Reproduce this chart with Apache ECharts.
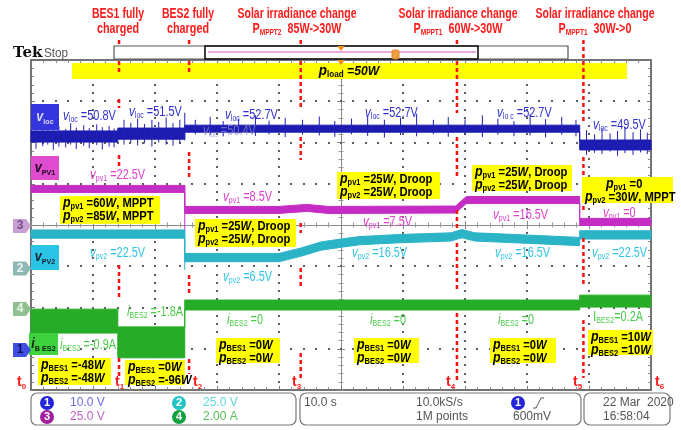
<!DOCTYPE html>
<html><head><meta charset="utf-8">
<script src="https://cdn.jsdelivr.net/npm/echarts@6/dist/echarts.min.js"></script>
<style>html,body{margin:0;padding:0;background:#fff}#c{width:681px;height:430px}</style>
</head><body><div id="c"></div>
<script>
// ---- DATA (time in s, 10 s/div; vertical in screen divisions, 0 = screen centre) ----
const vlocT  = [0, 14.0, 14.0, 24.8, 24.8, 88.5, 88.5, 100];
const vlocHi = [2.28, 2.28, 2.35, 2.35, 2.42, 2.42, 2.06, 2.06];
const vlocLo = [2.01, 2.01, 2.08, 2.08, 2.25, 2.25, 1.82, 1.82];
const vlocSpikes = [
 [0.8,2.38,1.85],[1.9,2.33,1.91],[2.7,2.45,1.95],[3.6,2.36,1.82],[4.5,2.40,1.90],[5.6,2.33,1.88],[6.4,2.47,1.95],
 [7.3,2.36,1.84],[8.5,2.42,1.92],[9.4,2.35,1.86],[10.6,2.44,1.94],[11.5,2.37,1.83],[12.6,2.40,1.90],[13.4,2.34,1.88],
 [15.0,2.55,1.95],[16.1,2.48,2.00],[17.2,2.58,1.93],[18.3,2.45,1.98],[19.5,2.55,1.90],[20.6,2.50,2.00],[21.8,2.60,1.95],
 [22.9,2.47,1.92],[24.0,2.55,1.98],[24.8,2.72,2.05],
 [26.5,2.55,2.20],[28.9,2.62,2.18],[31.0,2.52,2.15],[33.5,2.58,2.22],[36.2,2.66,2.16],[38.4,2.53,2.20],[41.0,2.60,2.13],
 [43.8,2.55,2.19],[46.5,2.63,2.17],[49.0,2.52,2.14],[51.7,2.58,2.20],[54.3,2.65,2.16],[57.0,2.55,2.12],[59.6,2.60,2.18],
 [62.2,2.70,2.15],[64.9,2.55,2.20],[67.3,2.62,2.14],[70.0,2.56,2.18],[72.8,2.66,2.13],[75.3,2.58,2.19],[77.9,2.52,2.15],
 [80.5,2.68,2.17],[83.0,2.57,2.12],[85.6,2.62,2.19],[87.9,2.55,2.15],
 [89.6,2.30,1.70],[90.9,2.20,1.75],[92.1,2.35,1.72],[93.4,2.22,1.78],[94.6,2.28,1.68],[95.8,2.38,1.74],[97.1,2.25,1.70],
 [98.3,2.32,1.76],[99.4,2.24,1.72]
];
const vpv1T  = [0, 24.8, 24.8, 40, 44.5, 48, 68.5, 70.2, 88.5, 88.5, 100];
const vpv1Hi = [0.96, 0.96, 0.45, 0.45, 0.50, 0.45, 0.46, 0.69, 0.69, 0.16, 0.16];
const vpv1Lo = [0.79, 0.79, 0.28, 0.28, 0.33, 0.28, 0.29, 0.52, 0.52, -0.01, -0.01];
const vpv1Spikes = [[24.8, 0.96, -0.12]];
const vpv2T  = [0, 24.8, 24.8, 40, 43.5, 46.8, 50, 53, 59.5, 67.7, 69.5, 71.6, 78, 88.5, 88.5, 100];
const vpv2Hi = [-0.12, -0.12, -0.69, -0.69, -0.56, -0.41, -0.34, -0.28, -0.23, -0.19, -0.11, -0.19, -0.23, -0.30, -0.14, -0.14];
const vpv2Lo = [-0.32, -0.32, -0.89, -0.89, -0.76, -0.61, -0.54, -0.48, -0.43, -0.39, -0.31, -0.39, -0.43, -0.50, -0.34, -0.34];
const vpv2Spikes = [[24.8, -0.12, -1.09]];
const ibesT  = [0, 14.0, 14.0, 24.8, 24.8, 88.5, 88.5, 100];
const ibesHi = [-2.04, -2.04, -2.47, -2.47, -1.82, -1.82, -1.70, -1.70];
const ibesLo = [-2.62, -2.62, -3.22, -3.22, -2.06, -2.06, -1.99, -1.99];
const eventTimes = [14.2, 25.5, 43.5, 68.7, 89.1];
const eventTitles = [["BES1 fully","charged"],["BES2 fully","charged"],["Solar irradiance change","MPPT2|  85W->30W"],["Solar irradiance change","MPPT1|  60W->30W"],["Solar irradiance change","MPPT1|  30W->0"]];
const timeMarks = ["0","1","2","3","4","5","6"];

// ---- LAYOUT ----
const FF = "'Liberation Sans',Arial,sans-serif";
const GL = 31, GT = 60, GW = 620, GH = 330;
const eventSegs = [
 [[40,74],[99,108],[155,168],[265,300],[358,378]],
 [[40,73],[152,178],[275,293],[359,374]],
 [[40,108],[137,160],[223,233],[268,288],[353,378]],
 [[40,113],[137,177],[210,230],[243,290],[313,380]],
 [[40,123],[157,210],[238,287],[320,378]]
];
const eventTitleX = [118, 188, 297, 458, 595];
const timeMarkX = [17, 115, 193, 292, 446, 573, 655];

function tk(size, color, weight, italic, sub){
  return {fontSize:size, fontFamily:FF, fontWeight:weight||'normal', fontStyle:italic?'italic':'normal',
    fill:color, lineHeight: sub?10:17, verticalAlign: sub?'bottom':'middle'};
}
function rtext(x, y, text, rich, align, z, sx){
  return {type:'text', x:x, y:y, z:z||20, scaleX:sx||1, style:{text:text, rich:rich, align:align||'left', verticalAlign:'middle',
    textAlign:align||'left', textVerticalAlign:'middle'}};
}
function sig(x, y, sym, sub, rest, color, symItalic){
  return rtext(x, y, '{a|'+sym+'}{b|'+sub+'}{c|'+rest+'}', {
    a: tk(15, color, 'normal', symItalic!==false), b: tk(9, color, 'normal', false, true), c: tk(14, color, 'normal')}, 'left', 20, 0.78);
}
function pline(x, y, sub, val, tail){
  const t = '{p|p}{s|'+sub+'}{n| ='+val+'}' + (tail.w ? '{w|W}' : '') + (tail.t ? '{n|'+tail.t+'}' : '');
  return rtext(x, y, t, {p: tk(15,'#000','bold',true), s: tk(9,'#000','bold',false,true), n: tk(13.5,'#000','bold'), w: tk(13.5,'#000','bold',true)}, 'left', 20, 0.83);
}
function ybox(x, y, w, h, lines){
  const out = [{type:'rect', z:15, shape:{x:x, y:y, width:w, height:h}, style:{fill:'#ffff00'}}];
  lines.forEach(function(l, i){ out.push(pline(l.x!==undefined?l.x:x+3, y+7+i*13, l.sub, l.val, l)); });
  return out;
}
function tag(x, y, w, h, fill, content, rich){
  return [{type:'rect', z:14, shape:{x:x, y:y, width:w, height:h}, style:{fill:fill}},
          rtext(x+w/2, y+h/2, content, rich, 'center', 16, 0.9)];
}
function chMarker(y, fill, txt, txtColor){
  return [{type:'polygon', z:14, shape:{points:[[13,y-7],[26,y-7],[31,y],[26,y+7],[13,y+7]]}, style:{fill:fill}},
          {type:'text', z:15, x:20, y:y, style:{text:txt, fill:txtColor, font:'bold 12px '+FF, align:'center', verticalAlign:'middle', textAlign:'center', textVerticalAlign:'middle'}}];
}
function plain(x, y, text, color, size, align, weight, sx){
  return {type:'text', z:20, x:x, y:y, scaleX:sx||1, style:{text:text, fill:color, font:(weight||'normal')+' '+(size||12)+'px '+FF,
    align:align||'left', verticalAlign:'middle', textAlign:align||'left', textVerticalAlign:'middle'}};
}

function bandSeries(T, HI, LO, fill, z){
  return {type:'custom', z:z||2, silent:true, clip:false, data:T.map(function(t,i){return [t, HI[i], LO[i]];}),
    encode:{x:0, y:[1,2]},
    renderItem:function(params, api){
      if (params.dataIndex !== 0) return null;
      const pts = [];
      for (let i=0;i<T.length;i++) pts.push(api.coord([T[i], HI[i]]));
      for (let i=T.length-1;i>=0;i--) pts.push(api.coord([T[i], LO[i]]));
      return {type:'polygon', shape:{points:pts}, style:{fill:fill, stroke:fill, lineWidth:1}};
    }};
}
function spikeSeries(S, color, z){
  return {type:'custom', z:z||2, silent:true, data:S, encode:{x:0, y:[1,2]},
    renderItem:function(params, api){
      const a = api.coord([api.value(0), api.value(1)]), b = api.coord([api.value(0), api.value(2)]);
      return {type:'line', shape:{x1:a[0], y1:a[1], x2:b[0], y2:b[1]}, style:{stroke:color, lineWidth:1}};
    }};
}
const eventSeries = {type:'custom', z:6, silent:true, clip:false, data:eventTimes.map(function(t){return [t,0];}), encode:{x:0,y:1},
  renderItem:function(params, api){
    const x = api.coord([api.value(0), 0])[0];
    return {type:'group', children: eventSegs[params.dataIndex].map(function(s){
      return {type:'line', shape:{x1:x, y1:s[0], x2:x, y2:s[1]}, style:{stroke:'#ff1010', lineWidth:2.5, lineDash:[4,3]}};
    })};
  }};

function mainX(pos){
  return {type:'value', min:0, max:100, interval:10, position:pos,
    axisLine:{show:true, onZero:false, lineStyle:{color:'#444', width:1.5}},
    axisTick:{show:true, inside:true, length:4, lineStyle:{color:'#777'}},
    minorTick:{show:true, splitNumber:5, length:3, lineStyle:{color:'#888'}},
    axisLabel:{show:false}, splitLine:{show:false}};
}
function centerX(inside){
  return {type:'value', min:0, max:100, interval:10, position:'bottom', offset:-165,
    axisLine:{show:true, onZero:false, lineStyle:{color:'#8a8a8a', width:1}},
    axisTick:{show:true, inside:inside, length:4, lineStyle:{color:'#888'}},
    minorTick:{show:true, splitNumber:5, length:2.5, lineStyle:{color:'#999'}},
    axisLabel:{show:false}, splitLine:{show:false}};
}
function mainY(pos){
  return {type:'value', min:-4, max:4, interval:1, position:pos,
    axisLine:{show:true, onZero:false, lineStyle:{color:'#444', width:1.5}},
    axisTick:{show:true, inside:true, length:4, lineStyle:{color:'#777'}},
    minorTick:{show:true, splitNumber:5, length:3, lineStyle:{color:'#888'}},
    axisLabel:{show:false}, splitLine:{show:false}};
}
function centerY(inside){
  return {type:'value', min:-4, max:4, interval:1, position:'left', offset:-310,
    axisLine:{show:true, onZero:false, lineStyle:{color:'#8a8a8a', width:1}},
    axisTick:{show:true, inside:inside, length:4, lineStyle:{color:'#888'}},
    minorTick:{show:true, splitNumber:5, length:2.5, lineStyle:{color:'#999'}},
    axisLabel:{show:false}, splitLine:{show:false}};
}

// ---- GRAPHICS ----
const g = [];
const dots = [];
for (let k=1;k<10;k++){ if (k===5) continue;
  const x = Math.round(GL + GW*k/10);
  for (let j=1;j<40;j++){ if (j%5===0) continue; dots.push([x, Math.round(GT + GH*j/40)]); }
}
for (let k=1;k<8;k++){ if (k===4) continue;
  const y = Math.round(GT + GH*k/8);
  for (let j=1;j<50;j++) dots.push([Math.round(GL + GW*j/50), y]);
}
dots.forEach(function(p){
  g.push({type:'rect', z:2, silent:true, shape:{x:p[0]-1, y:p[1]-1, width:2, height:2}, style:{fill:'#5e5e5e'}});
});
g.push({type:'text', z:20, x:13, y:53, style:{text:'Tek', fill:'#111', font:"bold 15px 'DejaVu Serif',serif", verticalAlign:'middle', textVerticalAlign:'middle'}});
g.push(plain(44, 53, 'Stop', '#555', 13, 'left', 'normal', 0.9));
g.push({type:'rect', z:10, shape:{x:114, y:46, width:454, height:13}, style:{fill:'#fff', stroke:'#555', lineWidth:1.2}});
g.push({type:'rect', z:11, shape:{x:205, y:46, width:273, height:13}, style:{fill:'none', stroke:'#111', lineWidth:1.6}});
g.push({type:'line', z:12, shape:{x1:208, y1:52, x2:476, y2:52}, style:{stroke:'#d050d0', lineWidth:1}});
g.push({type:'polygon', z:13, shape:{points:[[337,46],[345,46],[341,51]]}, style:{fill:'#f09020'}});
g.push({type:'rect', z:13, shape:{x:392, y:50, width:7, height:9, r:2}, style:{fill:'#f0a040', stroke:'#e08020'}});
g.push({type:'polygon', z:13, shape:{points:[[337,60],[345,60],[341,65]]}, style:{fill:'#f09020'}});
g.push({type:'rect', z:3, shape:{x:72, y:63, width:555, height:16}, style:{fill:'#ffff00'}});
g.push(rtext(349, 71, '{p|p}{s|load}{n| =50}{w|W}', {p:tk(15,'#000','bold',true), s:tk(9,'#000','bold',false,true), n:tk(13.5,'#000','bold',true), w:tk(13.5,'#000','bold',true)}, 'center', 4, 0.9));

[].push.apply(g, tag(31, 104, 28, 26, '#3535e0', '{a|v}{b|loc}', {a:tk(14,'#d8d8ff','bold',true), b:tk(8,'#d8d8ff','bold',false,true)}));
[].push.apply(g, tag(31, 156, 28, 24, '#e04cd0', '{a|v}{b|PV1}', {a:tk(14,'#200020','bold',true), b:tk(8,'#200020','bold',false,true)}));
[].push.apply(g, tag(31, 245, 28, 25, '#2cc4e6', '{a|v}{b|PV2}', {a:tk(14,'#102030','bold',true), b:tk(8,'#102030','bold',false,true)}));
[].push.apply(g, tag(29, 333, 29, 22, '#3ed23e', '{a|i}{b|B ES2}', {a:tk(14,'#102010','bold',true), b:tk(8,'#102010','bold',false,true)}));
[].push.apply(g, chMarker(226, '#c9a0d6', '3', '#7a4a8a'));
[].push.apply(g, chMarker(268.5, '#8fb8b4', '2', '#e8f4f4'));
[].push.apply(g, chMarker(309, '#90c090', '4', '#e8f4e8'));
[].push.apply(g, chMarker(350, '#3f4fe0', '1', '#10105a'));

const cB = '#3030d0', cM = '#e040d0', cC = '#30c4e6', cG = '#4ccc4c';
g.push(sig(63, 116, 'v', 'loc', ' =50.8V', cB));
g.push(sig(129, 112, 'v', 'loc', ' =51.5V', cB));
g.push(sig(225, 115, 'v', 'loc', ' =52.7V', cB));
var ghost = sig(203, 131, 'v', 'loc', ' =50.4V', 'rgba(140,140,210,0.75)'); ghost.z = 20; g.push(ghost);
g.push(sig(365, 113, 'v', 'loc', ' =52.7V', cB));
g.push(sig(497, 113, 'v', 'lo c', ' =52.7V', cB));
g.push(sig(593, 125, 'v', 'loc', ' =49.5V', cB));
g.push(sig(90, 175, 'v', 'pv1', ' =22.5V', cM));
g.push(sig(223, 197, 'v', 'pv1', ' =8.5V', cM));
g.push(sig(363, 222, 'v', 'pv1', ' =7.5V', cM));
g.push(sig(493, 215, 'v', 'pv1', ' =16.5V', cM));
g.push(sig(603, 213, 'v', 'pv1', ' =0', cM));
g.push(sig(90, 253, 'v', 'pv2', ' =22.5V', cC));
g.push(sig(223, 277, 'v', 'pv2', ' =6.5V', cC));
g.push(sig(352, 253, 'v', 'pv2', ' =16.5V', cC));
g.push(sig(495, 253, 'v', 'pv2', ' =16.5V', cC));
g.push(sig(592, 253, 'v', 'pv2', ' =22.5V', cC));
g.push(sig(127, 312, 'i', 'BES2', ' =-1.8A', cG));
g.push(sig(60, 345, 'i', 'BES2', ' =-0.9A', cG));
g.push(sig(227, 320, 'i', 'BES2', ' =0', cG));
g.push(sig(370, 320, 'i', 'BES2', ' =0', cG));
g.push(sig(498, 320, 'i', 'BES2', ' =0', cG));
g.push(sig(593, 317, 'I', 'BES2', '=0.2A', cG, false));

[].push.apply(g, ybox(60, 196, 100, 28, [{sub:'pv1', val:'60', w:1, t:', MPPT'}, {sub:'pv2', val:'85', w:1, t:', MPPT'}]));
[].push.apply(g, ybox(195, 219, 101, 28, [{sub:'pv1', val:'25', w:1, t:', Droop'}, {sub:'pv2', val:'25', w:1, t:', Droop'}]));
[].push.apply(g, ybox(337, 172, 103, 27, [{sub:'pv1', val:'25', w:1, t:', Droop'}, {sub:'pv2', val:'25', w:1, t:', Droop'}]));
[].push.apply(g, ybox(472, 165, 100, 26, [{sub:'pv1', val:'25', w:1, t:', Droop'}, {sub:'pv2', val:'25', w:1, t:', Droop'}]));
[].push.apply(g, ybox(582, 177, 91, 26, [{sub:'pv1', val:'0', x:606}, {sub:'pv2', val:'30', w:1, t:', MPPT'}]));
[].push.apply(g, ybox(38, 358, 73, 27, [{sub:'BES1', val:'-48', w:1}, {sub:'BES2', val:'-48', w:1}]));
[].push.apply(g, ybox(125, 360, 60, 25, [{sub:'BES1', val:'0', w:1}, {sub:'BES2', val:'-96', w:1}]));
[].push.apply(g, ybox(216, 338, 64, 25, [{sub:'BES1', val:'0', w:1}, {sub:'BES2', val:'0', w:1}]));
[].push.apply(g, ybox(354, 338, 65, 25, [{sub:'BES1', val:'0', w:1}, {sub:'BES2', val:'0', w:1}]));
[].push.apply(g, ybox(490, 338, 66, 25, [{sub:'BES1', val:'0', w:1}, {sub:'BES2', val:'0', w:1}]));
[].push.apply(g, ybox(588, 330, 65, 25, [{sub:'BES1', val:'10', w:1}, {sub:'BES2', val:'10', w:1}]));

const red = '#ff1a1a';
eventTitles.forEach(function(tt, i){
  g.push(plain(eventTitleX[i], 14, tt[0], red, 14, 'center', 'bold', 0.75));
  if (tt[1].indexOf('|') >= 0) {
    const parts = tt[1].split('|');
    g.push(rtext(eventTitleX[i], 29, '{a|P}{b|'+parts[0]+'}{a|'+parts[1]+'}', {a:tk(14,red,'bold'), b:tk(8.5,red,'bold',false,true)}, 'center', 20, 0.77));
  } else g.push(plain(eventTitleX[i], 29, tt[1], red, 14, 'center', 'bold', 0.77));
});
timeMarks.forEach(function(m, i){
  g.push(rtext(timeMarkX[i], 382, '{a|t}{b|'+m+'}', {a:tk(14,red,'bold'), b:tk(8,red,'bold',false,true)}, 'left'));
});

const bx = function(x,w){ return {type:'rect', z:10, shape:{x:x, y:393, width:w, height:32, r:6}, style:{fill:'#fff', stroke:'#7a7a7a', lineWidth:1.2}}; };
g.push(bx(31, 265)); g.push(bx(300, 281)); g.push(bx(584, 86));
function circ(cx, cy, fill, t){
  return [{type:'circle', z:12, shape:{cx:cx, cy:cy, r:7}, style:{fill:fill}},
          {type:'text', z:13, x:cx, y:cy, style:{text:t, fill:'#fff', font:'bold 11px '+FF, align:'center', verticalAlign:'middle', textAlign:'center', textVerticalAlign:'middle'}}];
}
[].push.apply(g, circ(47, 403, '#2424d8', '1'));
[].push.apply(g, circ(47, 417, '#a020a0', '3'));
[].push.apply(g, circ(179, 403, '#22c4c4', '2'));
[].push.apply(g, circ(179, 417, '#13a040', '4'));
g.push(plain(70, 403, '10.0 V', '#6a6ae0', 12));
g.push(plain(70, 417, '25.0 V', '#c060c8', 12));
g.push(plain(203, 403, '25.0 V', '#5cd6d6', 12));
g.push(plain(203, 417, '2.00 A', '#58c058', 12));
g.push(plain(304, 403, '10.0 s', '#555', 12));
g.push(plain(416, 403, '10.0kS/s', '#555', 12));
g.push(plain(416, 417, '1M points', '#555', 12));
[].push.apply(g, circ(518, 403, '#2424d8', '1'));
g.push({type:'polyline', z:12, shape:{points:[[533,408],[536,408],[541,398],[544,398]]}, style:{stroke:'#555', lineWidth:1, fill:'none'}});
g.push(plain(513, 417, '600mV', '#555', 12));
g.push(plain(603, 403, '22 Mar  2020', '#555', 12));
g.push(plain(603, 417, '16:58:04', '#555', 12));

const option = {
  animation:false, backgroundColor:'#fff',
  grid:{left:GL, top:GT, width:GW, height:GH, show:false},
  xAxis:[mainX('bottom'), mainX('top'), centerX(true), centerX(false)],
  yAxis:[mainY('left'), mainY('right'), centerY(true), centerY(false)],
  series:[
    bandSeries(vlocT, vlocHi, vlocLo, '#1c1cb0', 3),
    spikeSeries(vlocSpikes, '#2020b8', 3),
    bandSeries(vpv1T, vpv1Hi, vpv1Lo, '#c42cc4', 3),
    spikeSeries(vpv1Spikes, '#c42cc4', 3),
    bandSeries(vpv2T, vpv2Hi, vpv2Lo, '#2ab4c6', 3),
    spikeSeries(vpv2Spikes, '#2ab4c6', 3),
    bandSeries(ibesT, ibesHi, ibesLo, '#26ac26', 3),
    eventSeries
  ],
  graphic: g
};
const chart = echarts.init(document.getElementById('c'));
chart.setOption(option);
</script></body></html>
